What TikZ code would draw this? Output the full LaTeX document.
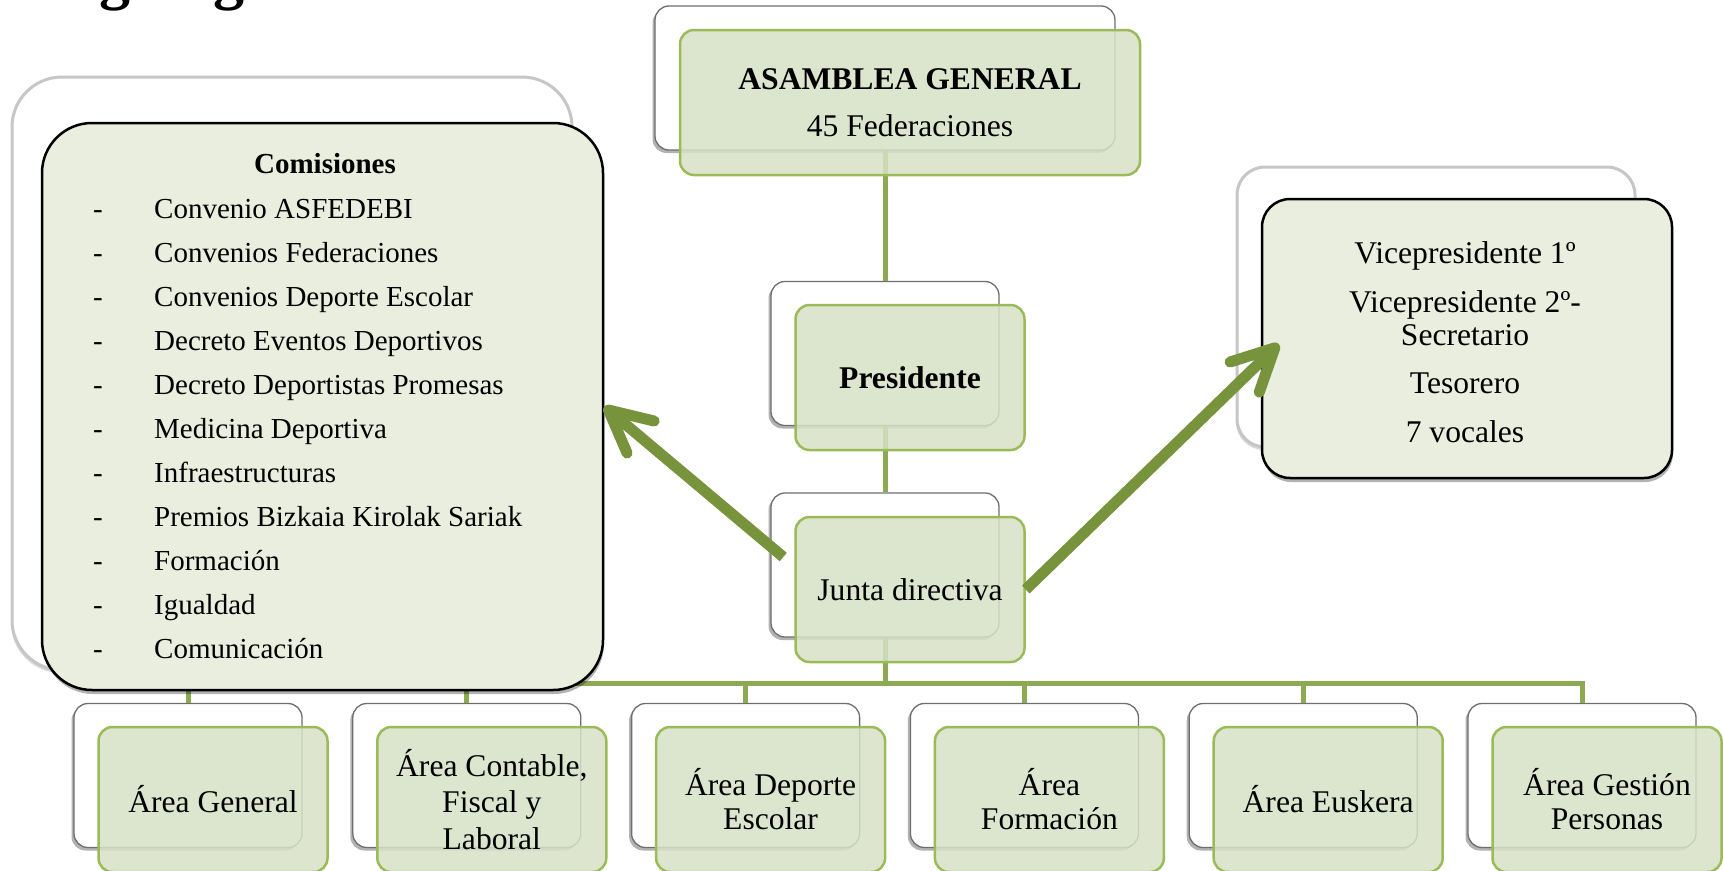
\documentclass[tikz,border=0pt]{standalone}
\usepackage{fontspec}
\setmainfont{Liberation Serif}
\usetikzlibrary{arrows.meta,shadows,calc}
\definecolor{connGreen}{HTML}{8DAA52}
\definecolor{boxFill}{HTML}{D7E1C6}
\definecolor{boxBorder}{HTML}{9BBB59}
\definecolor{arrowGreen}{HTML}{77933C}
\definecolor{comFill}{HTML}{EAEEDF}
\definecolor{backBorder}{HTML}{6E6E6E}
\definecolor{outerGray}{HTML}{C6C6C6}
\newcommand\mainsz{\fontsize{31.6}{34}\selectfont}
\newcommand\listsz{\fontsize{29}{31}\selectfont}
\tikzset{
  backbox/.style={draw=backBorder, line width=1.3pt, fill=white, rounded corners=14pt,
    minimum width=228pt, minimum height=144pt, inner sep=0pt,
    drop shadow={shadow xshift=-2.5pt, shadow yshift=-3pt, opacity=0.3, fill=black}},
  frontbox/.style={draw=boxBorder, line width=2.5pt, fill=boxFill, fill opacity=0.85, text opacity=1,
    rounded corners=14pt, minimum width=229pt, minimum height=145pt, inner sep=0pt,
    align=center, font=\mainsz},
  conn/.style={draw=connGreen, line width=5pt},
  bigarrow/.style={draw=arrowGreen, line width=11pt, -{Straight Barb[length=42pt, width=42pt, round]}},
  outerbox/.style={draw=outerGray, line width=3pt, fill=white, inner sep=0pt,
    drop shadow={shadow xshift=-1pt, shadow yshift=-3pt, opacity=0.15, fill=black}},
  blackbox/.style={draw=black, line width=2.5pt, fill=comFill, inner sep=0pt,
    drop shadow={shadow xshift=1pt, shadow yshift=-4pt, opacity=0.3, fill=black}},
  bodytext/.style={font=\mainsz, inner sep=0pt},
  listtext/.style={font=\listsz, inner sep=0pt},
}
\begin{document}
\begin{tikzpicture}[x=1pt,y=-1pt]
\useasboundingbox (0,0) rectangle (1723,870);
\begin{scope}
  \clip (0,0) rectangle (1723,870);
  \node[font=\bfseries\fontsize{62}{62}\selectfont, anchor=base west, inner sep=0pt] (title) at (24,-2) {Organigrama};
\end{scope}

% outer grey frames
\node[outerbox, minimum width=560pt, minimum height=593pt, rounded corners=50pt] (comout) at (292,373.5) {};
\node[outerbox, minimum width=398pt, minimum height=280pt, rounded corners=28pt] (viceout) at (1436,307) {};

% white back boxes
\node[backbox, minimum width=460pt] (aw) at (885,78) {};
\node[backbox] (pw) at (885,353.5) {};
\node[backbox] (jw) at (885,565) {};
\foreach \i in {1,...,6}
  \node[backbox] (bw\i) at ({188+278.8*(\i-1)},775.5) {};

% connectors
\coordinate (bus) at (0,683);
\draw[conn] (aw.south) -- (pw.north);
\draw[conn] (pw.south) -- (jw.north);
\draw[conn] (jw.south) -- (jw.south |- bus);
\draw[conn, line join=miter] (bw1.north) -- (bw1.north |- bus) -- (bw6.north |- bus) -- (bw6.north);
\foreach \i in {2,...,5}
  \draw[conn] (bw\i.north) -- (bw\i.north |- bus);

% green front boxes
\node[frontbox, minimum width=460pt] (ag) at (910,102.5) {\textbf{ASAMBLEA GENERAL}\\[13pt]45 Federaciones};
\node[frontbox] (pg) at (910,377.5) {\textbf{Presidente}};
\node[frontbox] (jg) at (910,589.5) {Junta directiva};
\node[frontbox] (bg1) at (213,799.5) {Área General};
\node[frontbox] (bg2) at (491.8,799.5) {Área Contable,\\[2.5pt]Fiscal y\\[2.5pt]Laboral};
\node[frontbox] (bg3) at (770.6,799.5) {Área Deporte\\Escolar};
\node[frontbox] (bg4) at (1049.4,799.5) {Área\\Formación};
\node[frontbox] (bg5) at (1328.2,799.5) {Área Euskera};
\node[frontbox] (bg6) at (1607,799.5) {Área Gestión\\Personas};

% Comisiones
\node[blackbox, minimum width=561pt, minimum height=567pt, rounded corners=50pt] (com) at (322.5,406.5) {};
\node[listtext, font=\listsz\bfseries, anchor=base] (comt) at (325,173) {Comisiones};
\foreach \t [count=\i] in {Convenio ASFEDEBI, Convenios Federaciones, Convenios Deporte Escolar,
    Decreto Eventos Deportivos, Decreto Deportistas Promesas, Medicina Deportiva,
    Infraestructuras, Premios Bizkaia Kirolak Sariak, Formación, Igualdad, Comunicación} {
  \node[listtext, anchor=base] (d\i) at (98,{218+44*(\i-1)}) {-};
  \node[listtext, anchor=base west] (c\i) at (154,{218+44*(\i-1)}) {\t};
}

% Vicepresidencias
\node[blackbox, minimum width=410pt, minimum height=279pt, rounded corners=28pt] (vice) at (1467,338.5) {};
\node[bodytext, anchor=base] (v1) at (1465,263) {Vicepresidente 1º};
\node[bodytext, anchor=base] (v2) at (1465,312) {Vicepresidente 2º-};
\node[bodytext, anchor=base] (v3) at (1465,345) {Secretario};
\node[bodytext, anchor=base] (v4) at (1465,393) {Tesorero};
\node[bodytext, anchor=base] (v5) at (1465,442) {7 vocales};

% arrows
\draw[bigarrow] ($(jg.west)+(-11,-32.5)$) -- (com.east);
\draw[bigarrow] (jg.east) -- ($(vice.west)+(18,5.5)$);
\end{tikzpicture}
\end{document}
